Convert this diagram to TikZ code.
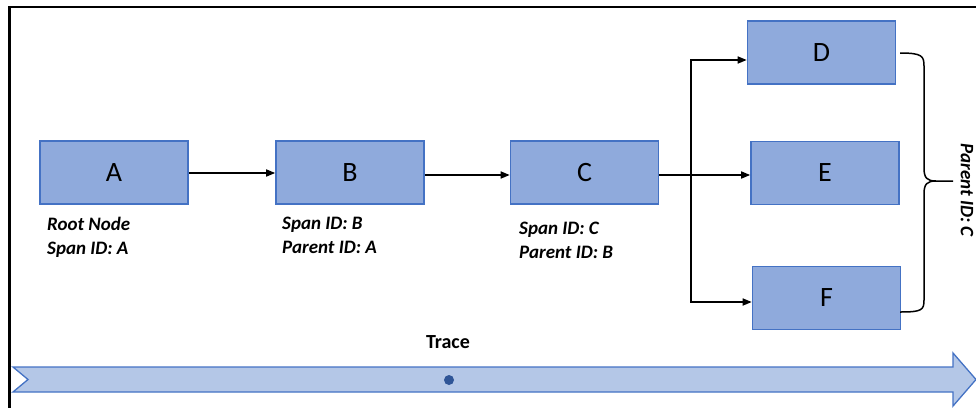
\documentclass[tikz,border=0pt]{standalone}
\usepackage{fontspec}
\setmainfont{Carlito}
\usetikzlibrary{arrows.meta}
\definecolor{boxfill}{HTML}{8FAADC}
\definecolor{boxline}{HTML}{4472C4}
\definecolor{barfill}{HTML}{B4C7E7}
\definecolor{dotcol}{HTML}{2F5597}
\tikzset{
  span/.style={draw=boxline, fill=boxfill, line width=1.6pt, minimum width=148pt, minimum height=63pt, inner sep=0pt, font=\fontsize{28}{30}\selectfont},
  info/.style={anchor=north west, align=left, inner sep=0pt, font=\fontsize{19}{24}\selectfont\bfseries\itshape},
  link/.style={line width=1.6pt, -{Triangle[length=9pt,width=7pt]}},
  frame/.style={line width=2.4pt, black}
}
\begin{document}
\begin{tikzpicture}[x=1pt,y=-1pt]
\useasboundingbox (0,0) rectangle (976,408);
% outer frame (top and left edges)
\draw[frame] (976,7) -- (9.5,7) -- (9.5,408);

% spans
\node[span] (A) at (114,172.5) {A};
\node[span] (B) at (350,172.5) {B};
\node[span] (C) at (584.5,172.5) {C};
\node[span] (D) at (821.5,52.5) {D};
\node[span] (E) at (825,173) {E};
\node[span] (F) at (826.5,298) {F};

% span details
\node[info] (la) at (47,217) {Root Node\\Span ID: A};
\node[info] (lb) at (282,217) {Span ID: B\\Parent ID: A};
\node[info] (lc) at (519,222) {Span ID: C\\Parent ID: B};

% connectors
\coordinate (fork) at (691,175);
\draw[link] (A.east |- 0,173) -- (B.west |- 0,173);
\draw[link] (B.east |- 0,175) -- (C.west |- 0,175);
\draw[link] (C.east |- 0,175) -- (E.west |- 0,175);
\draw[link] (fork) |- (D.west |- 0,60);
\draw[link] (fork) |- (F.west |- 0,302);

% brace grouping the children
\coordinate (bt) at (900,53);
\coordinate (bb) at (900,312);
\draw[line width=1.5pt, line join=round]
  (bt) .. controls (922,53) and (924,56) .. (924,66)
  -- (924,168) .. controls (924,178) and (927,181) .. (936,181) -- (953,181)
  (936,181) .. controls (927,181) and (924,184) .. (924,194)
  -- (924,300) .. controls (924,310) and (922,312) .. (bb);
\node[rotate=-90, font=\fontsize{19}{20}\selectfont\bfseries\itshape, inner sep=0pt] (pc) at (967,190) {Parent ID: C};

% trace timeline arrow
\draw[draw=boxline, fill=barfill, line width=1.3pt, line join=miter]
  (13,367) -- (953,367) -- (953,353) -- (976,379.5) -- (953,406) -- (953,392) -- (13,392) -- (28,379.5) -- cycle;
\fill[dotcol] (449,380) circle (5pt);
\node[font=\fontsize{20}{22}\selectfont\bfseries, inner sep=0pt] (trace) at (448,342) {Trace};
\end{tikzpicture}
\end{document}
